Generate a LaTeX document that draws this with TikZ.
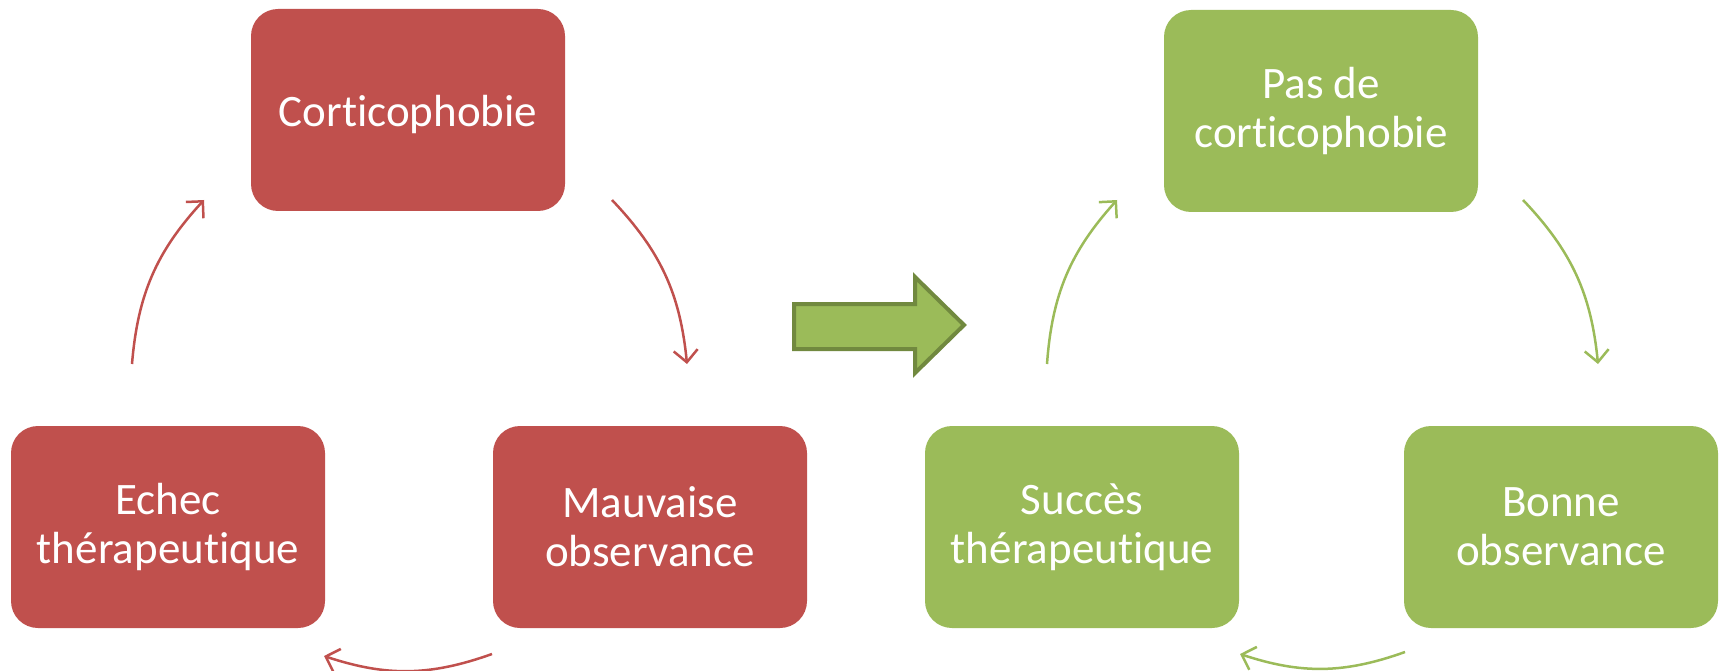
\documentclass[tikz,border=0pt]{standalone}
\usepackage{fontspec}
\setmainfont[Ligatures=NoCommon]{Carlito}
\usetikzlibrary{arrows.meta,calc}
\definecolor{BadClr}{HTML}{C0504D}
\definecolor{GoodClr}{HTML}{9BBB59}
\definecolor{GoodLine}{HTML}{71893F}

\begin{document}
\begin{tikzpicture}[x=1pt,y=-1pt,
  box/.style={rounded corners=27pt,minimum width=314pt,minimum height=202pt,
    text=white,align=center,font=\fontsize{45}{49}\selectfont,inner sep=0pt},
  badbox/.style={box,fill=BadClr},
  goodbox/.style={box,fill=GoodClr},
  cyc/.style={line width=2.5pt,-{Straight Barb[length=12pt,width=24pt]},bend left=19}]
\useasboundingbox (0,0) rectangle (1721,671);

% cercle vicieux
\node[badbox] (cortico) at (408,110) {\raisebox{-5pt}[\height][\depth]{Corticophobie}};
\node[badbox] (echec) at (168,527) {Echec\\thérapeutique};
\node[badbox] (mauvaise) at (650,527) {Mauvaise\\observance};

\coordinate (cl) at (409,388);
\coordinate (a1) at ($(cl)+(203,-188)$);
\coordinate (a2) at ($(cl)+(278,-24)$);
\coordinate (a3) at ($(cl)+(83,266)$);
\coordinate (a4) at ($(cl)+(-85,268)$);
\coordinate (a5) at ($(cl)+(-277,-24)$);
\coordinate (a6) at ($(cl)+(-205,-188)$);

\draw[cyc,BadClr] (a1) to (a2);
\draw[cyc,BadClr] (a3) to (a4);
\draw[cyc,BadClr] (a5) to (a6);

% fleche centrale
\draw[line width=4pt,GoodLine,fill=GoodClr,line join=miter]
  (794,304) -- (915,304) -- (915,277) -- (964,325) -- (915,373) -- (915,349) -- (794,349) -- cycle;

% cercle vertueux
\node[goodbox] (pas) at (1321,111) {Pas de\\corticophobie};
\node[goodbox] (succes) at (1082,527) {Succès\\thérapeutique};
\node[goodbox] (bonne) at (1561,527) {Bonne\\observance};

\coordinate (cr) at (1321,388);
\coordinate (b1) at ($(cr)+(202,-188)$);
\coordinate (b2) at ($(cr)+(277,-24)$);
\coordinate (b3) at ($(cr)+(84,264)$);
\coordinate (b4) at ($(cr)+(-81,266)$);
\coordinate (b5) at ($(cr)+(-274,-24)$);
\coordinate (b6) at ($(cr)+(-204,-188)$);

\draw[cyc,GoodClr] (b1) to (b2);
\draw[cyc,GoodClr] (b3) to (b4);
\draw[cyc,GoodClr] (b5) to (b6);

\end{tikzpicture}
\end{document}
